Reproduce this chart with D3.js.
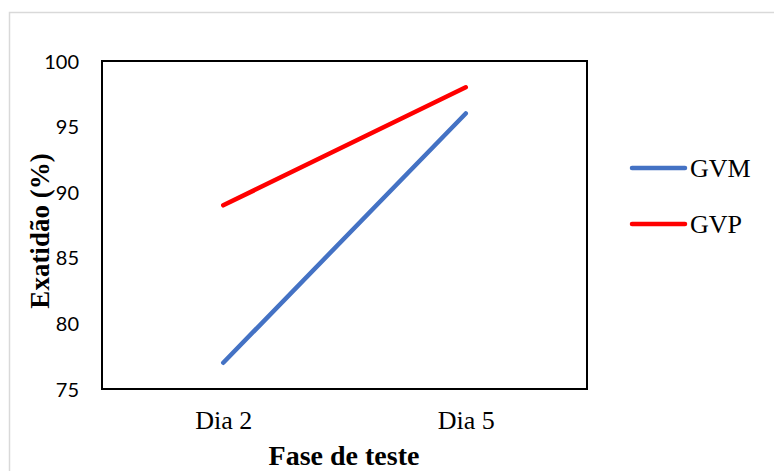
<!DOCTYPE html>
<html><head><meta charset="utf-8">
<script src="https://cdn.jsdelivr.net/npm/d3@7"></script>
<style>body{margin:0;background:#fff}svg{display:block}</style>
</head><body>
<script>
const categories = ["Dia 2", "Dia 5"];
const seriesNames = ["GVM", "GVP"];
const gvm = [77, 96];
const gvp = [89, 98];
const yTicks = [75, 80, 85, 90, 95, 100];
const colors = ["#4472C4", "#FF0000"];

const W = 774, H = 471;
const svg = d3.select("body").append("svg").attr("width", W).attr("height", H);
svg.append("rect").attr("x", 9.5).attr("y", 12.5).attr("width", 800).attr("height", 500)
  .attr("fill", "none").attr("stroke", "#d9d9d9").attr("stroke-width", 1.5);

const L = 102, R = 587, T = 61, B = 389;
const x = d3.scalePoint().domain(categories).range([L, R]).padding(0.5);
const y = d3.scaleLinear().domain([75, 100]).range([B, T]);

const yAxis = svg.append("g").attr("transform", `translate(${L},0)`)
  .call(d3.axisLeft(y).tickValues(yTicks).tickSize(0).tickPadding(23));
yAxis.select(".domain").remove();
yAxis.selectAll("text").attr("font-family", "Lato, sans-serif").attr("font-size", 20).attr("fill", "#000").attr("dy", "0.35em");

const xAxis = svg.append("g").attr("transform", `translate(0,${B})`)
  .call(d3.axisBottom(x).tickSize(0).tickPadding(0));
xAxis.select(".domain").remove();
xAxis.selectAll("text").attr("font-family", "'Liberation Serif', 'Times New Roman', serif").attr("font-size", 26).attr("fill", "#000").attr("dy", 0).attr("y", 40);

svg.append("rect").attr("x", L).attr("y", T).attr("width", R - L).attr("height", B - T)
  .attr("fill", "none").attr("stroke", "#000").attr("stroke-width", 2);

const series = [gvm, gvp];
const line = d3.line().x((d, i) => x(categories[i])).y(d => y(d));
series.forEach((s, k) => {
  svg.append("path").datum(s).attr("d", line).attr("fill", "none")
    .attr("stroke", colors[k]).attr("stroke-width", 4.5).attr("stroke-linecap", "round");
});

const leg = svg.append("g");
seriesNames.forEach((n, k) => {
  const yy = 168 + k * 56;
  leg.append("line").attr("x1", 632).attr("x2", 685).attr("y1", yy).attr("y2", yy)
    .attr("stroke", colors[k]).attr("stroke-width", 4.5).attr("stroke-linecap", "round");
  leg.append("text").attr("x", 690).attr("y", yy + 9).text(n)
    .attr("font-family", "'Liberation Serif', 'Times New Roman', serif").attr("font-size", 26).attr("fill", "#000");
});

svg.append("text").attr("x", 344).attr("y", 465).attr("text-anchor", "middle")
  .attr("font-family", "'Liberation Serif', 'Times New Roman', serif").attr("font-weight", "bold")
  .attr("font-size", 28).text("Fase de teste");
svg.append("text").attr("transform", "translate(49,231) rotate(-90)").attr("text-anchor", "middle")
  .attr("font-family", "'Liberation Serif', 'Times New Roman', serif").attr("font-weight", "bold")
  .attr("font-size", 27).text("Exatidão (%)");
</script>
</body></html>
